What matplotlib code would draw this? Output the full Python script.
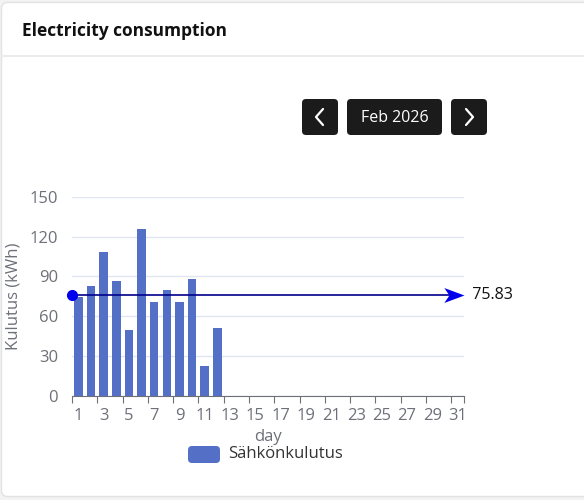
import matplotlib
matplotlib.use("Agg")
import matplotlib.pyplot as plt
from matplotlib.patches import FancyBboxPatch
from matplotlib.path import Path
import numpy as np

# ---- data ----
days = list(range(1, 32))
consumption = [74.5, 82.5, 108.5, 86.5, 50.0, 125.5, 70.8, 79.8, 70.5, 88.2, 22.5, 51.0]
average_value = 75.83
y_ticks = [0, 30, 60, 90, 120, 150]
x_tick_labels = [str(d) for d in range(1, 32, 2)]
series_name = "Sähkönkulutus"
title_text = "Electricity consumption"
month_label = "Feb 2026"
y_label = "Kulutus (kWh)"
x_label = "day"

FONT = ["Open Sans", "DejaVu Sans"]
plt.rcParams["font.family"] = FONT

W, H = 584, 500
fig = plt.figure(figsize=(W / 100, H / 100), dpi=100)
fig.patch.set_facecolor("#f3f3f3")

# overlay axes in pixel coordinates for card chrome
bg = fig.add_axes([0, 0, 1, 1], zorder=0)
bg.set_xlim(0, W)
bg.set_ylim(H, 0)
bg.axis("off")
card = FancyBboxPatch((1.5, 2.5), W + 20, 494, boxstyle="round,pad=0,rounding_size=6",
                      facecolor="white", edgecolor="#e2e2e2", linewidth=1.0)
bg.add_patch(card)
bg.plot([1.5, W], [56, 56], color="#ececec", linewidth=1.5)
bg.text(22, 31, title_text, fontsize=12.5, fontweight="bold", color="#111111",
        va="center", ha="left")

def button(x0, x1, y0, y1, label, fs):
    b = FancyBboxPatch((x0, y0), x1 - x0, y1 - y0, boxstyle="round,pad=0,rounding_size=4",
                       facecolor="#1b1b1b", edgecolor="none")
    bg.add_patch(b)
    if label:
        bg.text((x0 + x1) / 2, (y0 + y1) / 2 + 0.5, label, fontsize=fs, color="white",
                ha="center", va="center")

button(302, 338, 99, 135, "", 10)
button(347, 442, 99, 135, month_label, 11.5)
button(451, 487, 99, 135, "", 10)
bg.plot([323, 316, 323], [109, 117, 125], color="white", linewidth=1.6, solid_capstyle="round")
bg.plot([466, 473, 466], [109, 117, 125], color="white", linewidth=1.6, solid_capstyle="round")

# legend
leg = FancyBboxPatch((188, 446), 32, 17, boxstyle="round,pad=0,rounding_size=4",
                     facecolor="#5470c6", edgecolor="none")
bg.add_patch(leg)
bg.text(228, 454.5, series_name, fontsize=12, color="#333333", va="center", ha="left")

# axis titles
bg.text(14, 296, y_label, fontsize=12, color="#6e7079", rotation=90, ha="center", va="center")
bg.text(268, 437, x_label, fontsize=12, color="#6e7079", ha="center", va="center")

# ---- chart axes ----
left, right = 72, 464
top, bottom = 196.7, 396
ax = fig.add_axes([left / W, (H - bottom) / H, (right - left) / W, (bottom - top) / H], zorder=1)
ax.patch.set_alpha(0)

x = np.arange(1, len(consumption) + 1)
ax.bar(x, consumption, width=0.68, color="#5470c6", zorder=2)

ax.set_xlim(0.5, 31.5)
ax.set_ylim(0, 150)
ax.set_yticks(y_ticks)
ax.set_yticklabels([str(v) for v in y_ticks])
ax.yaxis.grid(True, color="#e0e6f1", linewidth=1)
ax.set_axisbelow(True)
for s in ["top", "right", "left"]:
    ax.spines[s].set_visible(False)
ax.spines["bottom"].set_color("#6e7079")
ax.tick_params(axis="y", length=0, labelsize=12, labelcolor="#6e7079", pad=10)

# category ticks at boundaries every 2 categories, labels at centers
ax.set_xticks(list(np.arange(0.5, 31, 2)) + [31.5])
ax.set_xticklabels([])
ax.tick_params(axis="x", length=5, color="#6e7079", direction="out")
ax.set_xticks(list(range(1, 32, 2)), minor=True)
ax.set_xticklabels(x_tick_labels, minor=True)
ax.tick_params(axis="x", which="minor", length=0, labelsize=12, labelcolor="#6e7079", pad=9)

# average mark line
ax.plot([0.5, 31.2], [average_value, average_value], color="#00008b", linewidth=1.2,
        zorder=4, clip_on=False)
ax.plot([0.5], [average_value], marker="o", markersize=7, color="#0000ee", zorder=5,
        clip_on=False)
arrow_path = Path([(0, 0), (-1, -0.37), (-0.75, 0), (-1, 0.37), (0, 0)],
                  [Path.MOVETO, Path.LINETO, Path.LINETO, Path.LINETO, Path.CLOSEPOLY])
ax.plot([31.5], [average_value], marker=arrow_path, markersize=29, color="#0000ee",
        markeredgewidth=0, zorder=5, clip_on=False)
ax.text(31.5, average_value, "  " + f"{average_value:.2f}", fontsize=11.5, color="#111111",
        va="center", ha="left", clip_on=False)

fig.savefig("out.png", dpi=100)
